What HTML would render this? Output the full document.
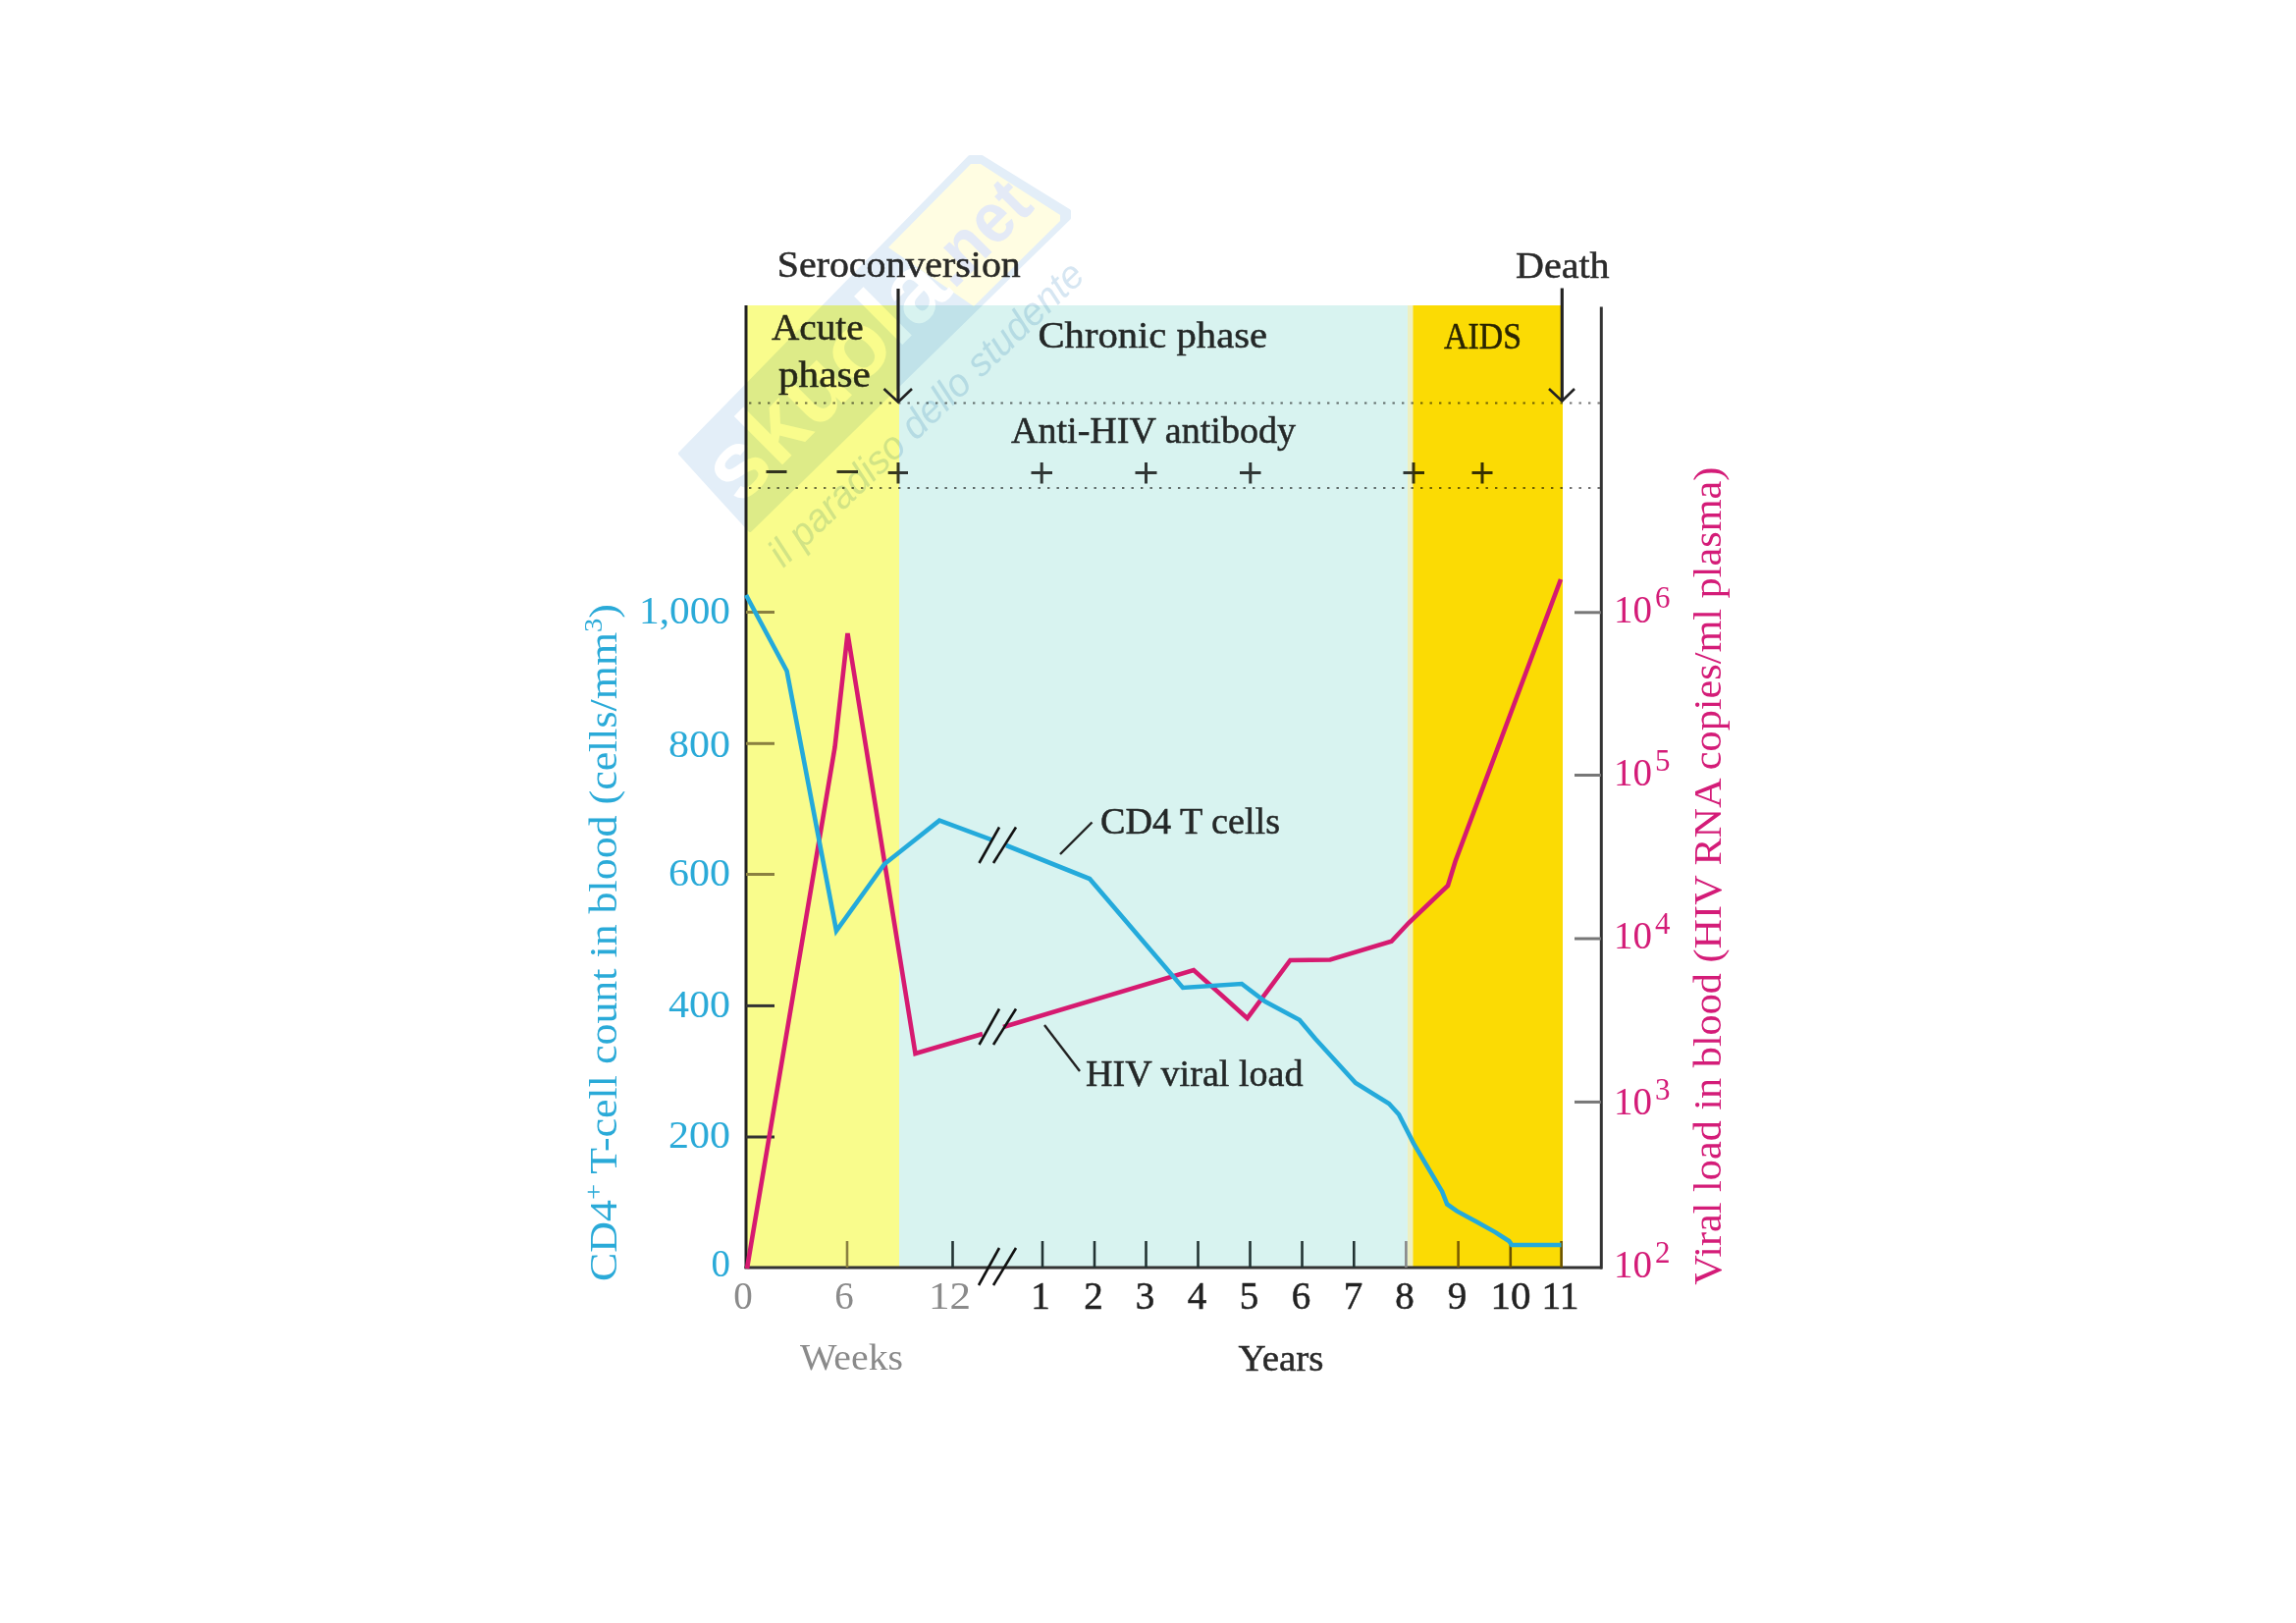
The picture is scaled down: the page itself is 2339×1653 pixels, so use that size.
<!DOCTYPE html>
<html><head><meta charset="utf-8">
<style>
html,body{margin:0;padding:0;background:#fff;width:2339px;height:1653px;overflow:hidden}
svg{position:absolute;left:0;top:0;display:block}
text{font-family:"Liberation Serif",serif}
</style></head><body>
<svg width="2339" height="1653" viewBox="0 0 2339 1653">
<rect width="2339" height="1653" fill="#fff"/>
<!-- phase backgrounds -->
<rect x="760" y="311" width="156" height="980" fill="#f9fc8c"/>
<rect x="916" y="311" width="518" height="980" fill="#d8f3f0"/>
<rect x="1434" y="311" width="6" height="980" fill="#eef0c0"/>
<rect x="1439.5" y="311" width="152.5" height="980" fill="#fbdb04"/>


<!-- watermark -->
<g style="mix-blend-mode:multiply">
<polygon points="693,462 988,160 1000,160 1089,215 1089,222 764,540" fill="#e3eef8" stroke="#e3eef8" stroke-width="4" stroke-linejoin="round"/>
<polygon points="905,252 989,167 999,167 1080,219 1080,225 992,312" fill="#fffde2"/>
<g transform="translate(885.5,345) rotate(-45)">
<text x="-214" y="28" style="font-family:'Liberation Sans',sans-serif;font-weight:bold" font-size="96" fill="#fff" textLength="308" lengthAdjust="spacingAndGlyphs">skuola</text>
<text x="96" y="26" style="font-family:'Liberation Sans',sans-serif;font-weight:bold" font-size="72" fill="#e4eaf6" textLength="118" lengthAdjust="spacingAndGlyphs">.net</text>
</g>
<text transform="translate(798,579) rotate(-43.8)" style="font-family:'Liberation Sans',sans-serif;font-style:italic" font-size="40" fill="#d6e6f2" textLength="428" lengthAdjust="spacingAndGlyphs">il paradiso dello studente</text>
</g>

<!-- dotted lines -->
<g style="mix-blend-mode:multiply" stroke="#707070" stroke-width="2.2" stroke-dasharray="2.4 7.1">
<line x1="763" y1="410.5" x2="1630" y2="410.5"/>
<line x1="763" y1="497" x2="1630" y2="497"/>
</g>

<!-- axes -->
<line x1="760" y1="311" x2="760" y2="1292" stroke="#222" stroke-width="3"/>
<line x1="1631.3" y1="312.5" x2="1631.3" y2="1292.5" stroke="#333" stroke-width="3"/>
<line x1="758.5" y1="1291" x2="1632" y2="1291" stroke="#333" stroke-width="3"/>

<!-- left y ticks -->
<g stroke="#8a8040" stroke-width="3">
<line x1="760" y1="623.5" x2="789" y2="623.5"/>
<line x1="760" y1="757.3" x2="789" y2="757.3"/>
<line x1="760" y1="890.5" x2="789" y2="890.5"/>
<line x1="760" y1="1024.4" x2="789" y2="1024.4" stroke="#333"/>
<line x1="760" y1="1158" x2="789" y2="1158" stroke="#333"/>
</g>
<!-- right y ticks -->
<g stroke="#777" stroke-width="3">
<line x1="1604" y1="623.8" x2="1631" y2="623.8"/>
<line x1="1604" y1="789.5" x2="1631" y2="789.5"/>
<line x1="1604" y1="956" x2="1631" y2="956"/>
<line x1="1604" y1="1122.4" x2="1631" y2="1122.4"/>
</g>
<!-- x ticks -->
<g stroke-width="2.6">
<line x1="863" y1="1264" x2="863" y2="1291" stroke="#8a8040"/>
<line x1="970.5" y1="1264" x2="970.5" y2="1291" stroke="#233"/>
<line x1="1062" y1="1264" x2="1062" y2="1291" stroke="#233"/>
<line x1="1115" y1="1264" x2="1115" y2="1291" stroke="#233"/>
<line x1="1167.5" y1="1264" x2="1167.5" y2="1291" stroke="#233"/>
<line x1="1220.5" y1="1264" x2="1220.5" y2="1291" stroke="#233"/>
<line x1="1273.5" y1="1264" x2="1273.5" y2="1291" stroke="#233"/>
<line x1="1326.5" y1="1264" x2="1326.5" y2="1291" stroke="#233"/>
<line x1="1379.3" y1="1264" x2="1379.3" y2="1291" stroke="#233"/>
<line x1="1432.4" y1="1264" x2="1432.4" y2="1291" stroke="#888"/>
<line x1="1485.6" y1="1264" x2="1485.6" y2="1291" stroke="#7a5c00"/>
<line x1="1538.8" y1="1264" x2="1538.8" y2="1291" stroke="#6a5200"/>
<line x1="1590.6" y1="1264" x2="1590.6" y2="1291" stroke="#6a5200"/>
</g>

<!-- data lines -->
<polyline fill="none" stroke="#d61a70" stroke-width="4.6" stroke-linejoin="miter" points="761,1292 850.5,761 863.5,645 932.5,1073 1001,1053"/>
<polyline fill="none" stroke="#d61a70" stroke-width="4.6" stroke-linejoin="miter" points="1022,1046 1216,988 1270.6,1037 1314.4,978 1355,977.5 1417.5,958.8 1435,940 1475,902 1482.5,877.5 1590,590"/>
<polyline fill="none" stroke="#24aadb" stroke-width="4.6" stroke-linejoin="miter" points="760,606 801.6,683.5 852,948 901,880 957,835.6 1011,855.6"/>
<polyline fill="none" stroke="#24aadb" stroke-width="4.6" stroke-linejoin="miter" points="1025,861 1110,895 1205,1006 1265,1002 1288.8,1020 1323.8,1038.8 1340,1058 1381,1103 1415,1124 1425,1135 1440,1164.4 1469.2,1213.7 1474.2,1226.5 1484,1233.4 1504,1244.3 1523.5,1255.1 1537.3,1264 1540,1268 1590.5,1268"/>

<!-- break marks -->
<g stroke="#111" stroke-width="2.6">
<line x1="997.5" y1="879" x2="1018" y2="842.5"/>
<line x1="1012" y1="879" x2="1035" y2="842.5"/>
<line x1="997.5" y1="1064" x2="1018" y2="1027.5"/>
<line x1="1012" y1="1064" x2="1035" y2="1027.5"/>
<line x1="997" y1="1309" x2="1018" y2="1271"/>
<line x1="1012" y1="1309" x2="1035" y2="1271"/>
</g>
<!-- leader lines -->
<g stroke="#222" stroke-width="2.4">
<line x1="1080" y1="870" x2="1112.5" y2="837.5"/>
<line x1="1064" y1="1044" x2="1100" y2="1091"/>
</g>

<!-- arrows -->
<g stroke="#222" stroke-width="3.2" fill="none">
<line x1="915" y1="294" x2="915" y2="409"/>
<line x1="1591.3" y1="293.5" x2="1591.3" y2="409"/>
</g>
<g stroke="#222" stroke-width="2.6" fill="none">
<polyline points="900.5,396 915,409.5 929,396"/>
<polyline points="1578,396 1591.3,408.5 1604,396"/>
</g>

<!-- plus/minus -->
<g stroke="#383838" stroke-width="3" style="mix-blend-mode:multiply">
<line x1="780.5" y1="480.5" x2="801.5" y2="480.5"/>
<line x1="852.5" y1="480.5" x2="874" y2="480.5"/>
<path d="M904.7 481.4H925M915 471V492.6"/>
<path d="M1050.5 481.4H1072M1061.2 471V492.5"/>
<path d="M1156.5 481.4H1178.5M1167.5 471V492.5"/>
<path d="M1263 481.4H1284.5M1273.8 471V492.5"/>
<path d="M1429.5 481.4H1451M1440 471V492.5"/>
<path d="M1499.5 481.4H1520.5M1510 471V492.5"/>
</g>

<!-- text labels -->
<g fill="#2a2a2a" font-size="38.5" stroke="#2a2a2a" stroke-width="0.5" style="mix-blend-mode:multiply">
<text x="791.8" y="281.7" textLength="248" lengthAdjust="spacingAndGlyphs">Seroconversion</text>
<text x="1544" y="282.5" textLength="95.6" lengthAdjust="spacingAndGlyphs">Death</text>
<text x="786" y="345.5" textLength="93.7" lengthAdjust="spacingAndGlyphs">Acute</text>
<text x="793" y="393.7" textLength="93.8" lengthAdjust="spacingAndGlyphs">phase</text>
<text x="1057.5" y="353.8" textLength="233.5" lengthAdjust="spacingAndGlyphs">Chronic phase</text>
<text x="1471" y="354.5" textLength="79" lengthAdjust="spacingAndGlyphs">AIDS</text>
<text x="1030" y="450.5" textLength="290" lengthAdjust="spacingAndGlyphs">Anti-HIV antibody</text>
<text x="1121" y="848.8" textLength="183" lengthAdjust="spacingAndGlyphs">CD4 T cells</text>
<text x="1106" y="1106" textLength="221.5" lengthAdjust="spacingAndGlyphs">HIV viral load</text>
<text x="1261.5" y="1395.5" textLength="87" lengthAdjust="spacingAndGlyphs">Years</text>
</g>
<text x="815" y="1395" fill="#8a8a8a" font-size="38.5" textLength="105" lengthAdjust="spacingAndGlyphs">Weeks</text>

<!-- x tick labels -->
<g font-size="39" text-anchor="middle" fill="#8a8a8a">
<text x="757" y="1333">0</text>
<text x="860" y="1333">6</text>
<text x="967.5" y="1333" textLength="43" lengthAdjust="spacingAndGlyphs">12</text>
</g>
<g font-size="39" text-anchor="middle" fill="#222" stroke="#222" stroke-width="0.5">
<text x="1060" y="1333">1</text>
<text x="1114" y="1333">2</text>
<text x="1166.5" y="1333">3</text>
<text x="1219.5" y="1333">4</text>
<text x="1272.5" y="1333">5</text>
<text x="1325.5" y="1333">6</text>
<text x="1378.5" y="1333">7</text>
<text x="1431" y="1333">8</text>
<text x="1484.5" y="1333">9</text>
<text x="1539" y="1333" textLength="41" lengthAdjust="spacingAndGlyphs">10</text>
<text x="1589.6" y="1333" textLength="38" lengthAdjust="spacingAndGlyphs">11</text>
</g>

<!-- left y labels -->
<g font-size="39" text-anchor="end" fill="#2aaad8">
<text x="744" y="634.5" textLength="93" lengthAdjust="spacingAndGlyphs">1,000</text>
<text x="744" y="770.5" textLength="63" lengthAdjust="spacingAndGlyphs">800</text>
<text x="744" y="901.5" textLength="63" lengthAdjust="spacingAndGlyphs">600</text>
<text x="744" y="1035.5" textLength="63" lengthAdjust="spacingAndGlyphs">400</text>
<text x="744" y="1169" textLength="63" lengthAdjust="spacingAndGlyphs">200</text>
<text x="744" y="1300">0</text>
</g>
<!-- right y labels -->
<g font-size="39" fill="#d41c78">
<text x="1644" y="634">10<tspan font-size="31" dx="3" dy="-15">6</tspan></text>
<text x="1644" y="800">10<tspan font-size="31" dx="3" dy="-15">5</tspan></text>
<text x="1644" y="966">10<tspan font-size="31" dx="3" dy="-15">4</tspan></text>
<text x="1644" y="1134.5">10<tspan font-size="31" dx="3" dy="-15">3</tspan></text>
<text x="1644" y="1300.5">10<tspan font-size="31" dx="3" dy="-15">2</tspan></text>
</g>

<!-- axis titles -->
<text transform="translate(627.5,1305) rotate(-90)" font-size="40" fill="#2aaad8" textLength="690" lengthAdjust="spacingAndGlyphs">CD4<tspan font-size="26" dy="-15">+</tspan><tspan dy="15"> T-cell count in blood (cells/mm</tspan><tspan font-size="26" dy="-15">3</tspan><tspan dy="15">)</tspan></text>
<text transform="translate(1752.5,1308.7) rotate(-90)" font-size="39" fill="#d41c78" textLength="833" lengthAdjust="spacingAndGlyphs">Viral load in blood (HIV RNA copies/ml plasma)</text>
</svg>
</body></html>
